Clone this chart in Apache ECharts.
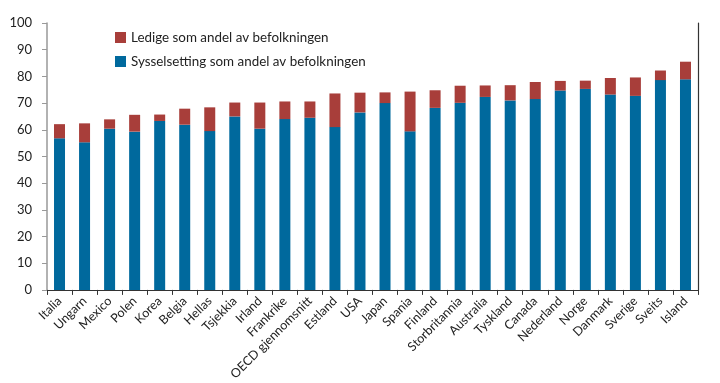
<!DOCTYPE html>
<html>
<head>
<meta charset="utf-8">
<script src="https://cdn.jsdelivr.net/npm/echarts@6/dist/echarts.min.js"></script>
<style>html,body{margin:0;padding:0;background:#fff}#c{width:720px;height:383px}</style>
</head>
<body>
<div id="c"></div>
<script>
var categories = ["Italia","Ungarn","Mexico","Polen","Korea","Belgia","Hellas","Tsjekkia","Irland","Frankrike","OECD gjennomsnitt","Estland","USA","Japan","Spania","Finland","Storbritannia","Australia","Tyskland","Canada","Nederland","Norge","Danmark","Sverige","Sveits","Island"];
var sysselsetting = [56.8,55.3,60.4,59.3,63.3,61.9,59.5,65.0,60.4,64.0,64.5,61.0,66.5,70.0,59.4,68.2,70.1,72.3,71.0,71.5,74.7,75.3,73.2,72.7,78.6,78.9];
var totalt = [62.1,62.4,63.9,65.6,65.7,67.9,68.4,70.2,70.2,70.6,70.6,73.6,73.9,74.0,74.3,74.8,76.5,76.6,76.7,77.9,78.3,78.4,79.4,79.6,82.2,85.5];
var ledige = totalt.map(function(t,i){return Math.round((t - sysselsetting[i])*10)/10;});
var yTicks = [0,10,20,30,40,50,60,70,80,90,100];

var FONT = 'Lato';
var chart = echarts.init(document.getElementById('c'));
chart.setOption({
  animation: false,
  textStyle: {fontFamily: FONT},
  grid: {left: 47, right: 22, top: 23, bottom: 92, containLabel: false},
  legend: {
    orient: 'vertical', left: 110, top: 26,
    itemWidth: 11, itemHeight: 11, itemGap: 11,
    icon: 'rect',
    textStyle: {fontFamily: FONT, fontSize: 13.4, color: '#222'},
    data: ['Ledige som andel av befolkningen', 'Sysselsetting som andel av befolkningen']
  },
  xAxis: [{
    type: 'category', data: categories,
    axisLine: {lineStyle: {color: '#333', width: 1.2}},
    axisTick: {show: true, length: 5, lineStyle: {color: '#333'}},
    axisLabel: {rotate: 45, fontSize: 12.5, color: '#222', margin: 9, interval: 0, fontFamily: FONT}
  }, {
    type: 'category', data: categories, position: 'top',
    axisLine: {show: true, lineStyle: {color: '#333', width: 1.2}},
    axisTick: {show: false}, axisLabel: {show: false}
  }],
  yAxis: [{
    type: 'value', min: 0, max: 100, interval: 10,
    axisLine: {show: true, lineStyle: {color: '#999', width: 1.5}},
    axisTick: {show: true, length: 5, lineStyle: {color: '#999'}},
    splitLine: {show: false},
    axisLabel: {fontSize: 13, color: '#222', margin: 15, fontFamily: FONT,
      formatter: function(v){ return yTicks.indexOf(v) >= 0 ? String(v) : ''; }}
  }, {
    type: 'value', min: 0, max: 100, position: 'right',
    axisLine: {show: true, lineStyle: {color: '#333', width: 1.2}},
    axisTick: {show: false}, axisLabel: {show: false}, splitLine: {show: false}
  }],
  series: [{
    name: 'Sysselsetting som andel av befolkningen', type: 'bar', stack: 's',
    data: sysselsetting, barWidth: 11,
    itemStyle: {color: '#00699d'}
  }, {
    name: 'Ledige som andel av befolkningen', type: 'bar', stack: 's',
    data: ledige, barWidth: 11,
    itemStyle: {color: '#a83e3a'}
  }]
});
</script>
</body>
</html>
